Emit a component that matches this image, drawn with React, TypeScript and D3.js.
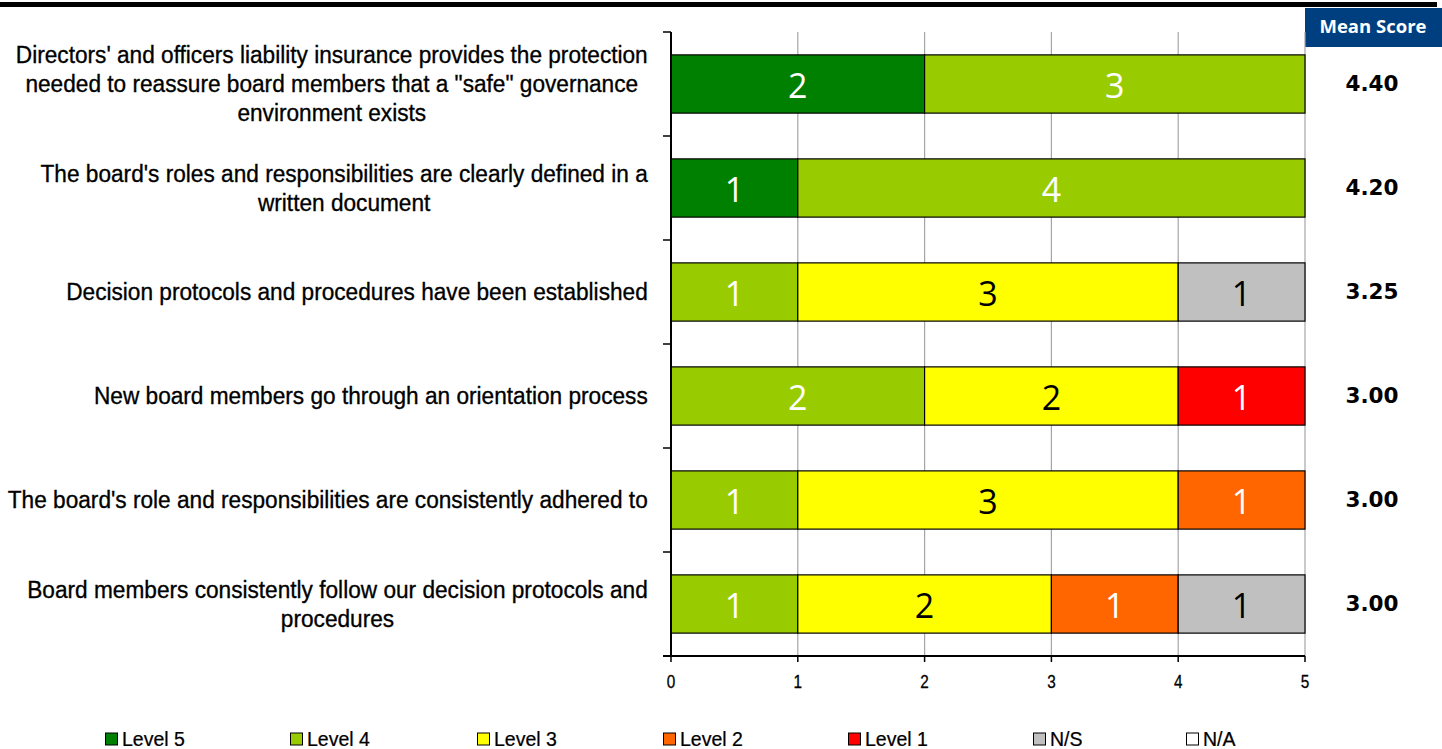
import React, { useEffect, useMemo } from "react";
import * as d3 from "d3";

// Survey statements (top to bottom) and their wrapped lines
const statements: string[][] = [
  [
    "Directors' and officers liability insurance provides the protection",
    'needed to reassure board members that a "safe" governance',
    "environment exists",
  ],
  ["The board's roles and responsibilities are clearly defined in a", "written document"],
  ["Decision protocols and procedures have been established"],
  ["New board members go through an orientation process"],
  ["The board's role and responsibilities are consistently adhered to"],
  ["Board members consistently follow our decision protocols and", "procedures"],
];

// Response levels, in stacking order
const levels = ["Level 5", "Level 4", "Level 3", "Level 2", "Level 1", "N/S", "N/A"];
const levelColors = ["#008000", "#99cc00", "#ffff00", "#ff6600", "#ff0000", "#c0c0c0", "#ffffff"];
const levelTextColors = ["#ffffff", "#ffffff", "#000000", "#ffffff", "#ffffff", "#000000", "#000000"];

// Response counts per statement, one value per level
const level5 = [2, 1, 0, 0, 0, 0];
const level4 = [3, 4, 1, 2, 1, 1];
const level3 = [0, 0, 3, 2, 3, 2];
const level2 = [0, 0, 0, 0, 1, 1];
const level1 = [0, 0, 0, 1, 0, 0];
const levelNS = [0, 0, 1, 0, 0, 1];
const levelNA = [0, 0, 0, 0, 0, 0];

const meanScores = ["4.40", "4.20", "3.25", "3.00", "3.00", "3.00"];
const xTicks = [0, 1, 2, 3, 4, 5];

const W = 1442;
const H = 749;
const SANS = '"Liberation Sans", Arial, sans-serif';

// horizontal squeeze that turns Liberation Sans into a narrow face
const LABEL_SQUEEZE = 0.925;
const LEGEND_SQUEEZE = 0.93;
const TICK_SQUEEZE = 0.85;

export default function App() {
  useEffect(() => {
    document.body.style.margin = "0";
  }, []);

  const counts = [level5, level4, level3, level2, level1, levelNS, levelNA];

  const x = d3.scaleLinear().domain([0, 5]).range([671, 1305]);
  const y = d3
    .scaleBand<number>()
    .domain(d3.range(statements.length))
    .range([32, 656])
    .paddingInner(0.44)
    .paddingOuter(0.22);
  const step = y.step();

  const rows = statements.map((_, i) => {
    const rec: Record<string, number> = {};
    levels.forEach((lv, j) => (rec[lv] = counts[j][i]));
    return rec;
  });
  const series = d3.stack<Record<string, number>>().keys(levels)(rows);

  const labelSize = 24.5;
  const widths = useMemo(() => {
    const c = document.createElement("canvas").getContext("2d")!;
    c.font = `${labelSize}px ${SANS}`;
    return statements.map((lines) => lines.map((l) => c.measureText(l).width * LABEL_SQUEEZE));
  }, []);

  const labelRight = 648;
  const lineH = 29;
  const legendX = [105, 290, 477, 663, 848, 1033, 1186];

  return (
    <svg
      width={W}
      height={H}
      viewBox={`0 0 ${W} ${H}`}
      style={{ display: "block", position: "absolute", left: 0, top: 0, background: "#fff" }}
    >
      {/* top rule */}
      <rect x={0} y={2} width={1437} height={5} fill="#000" />

      {/* mean score header */}
      <rect x={1305} y={8} width={137} height={39} fill="#003f7f" />
      <text
        x={1373}
        y={33}
        textAnchor="middle"
        fill="#fff"
        fontFamily='"Open Sans", sans-serif'
        fontWeight={700}
        fontSize={18.5}
      >
        Mean Score
      </text>

      {/* vertical gridlines */}
      {xTicks.slice(1).map((t) => (
        <line key={t} x1={x(t)} x2={x(t)} y1={32} y2={656} stroke="#a6a6a6" strokeWidth={1.2} />
      ))}

      {/* stacked bars */}
      {series.map((s, j) =>
        s.map((d, i) => {
          const v = d[1] - d[0];
          if (!v) return null;
          const x0 = x(d[0]);
          const x1 = x(d[1]);
          const yy = y(i)!;
          return (
            <g key={`${j}-${i}`}>
              <rect
                x={x0}
                y={yy}
                width={x1 - x0}
                height={y.bandwidth()}
                fill={levelColors[j]}
                stroke="#000"
                strokeWidth={1.2}
              />
              <text
                x={(x0 + x1) / 2}
                y={yy + y.bandwidth() / 2 + 14}
                textAnchor="middle"
                fill={levelTextColors[j]}
                fontFamily='"Open Sans", sans-serif'
                fontSize={34}
              >
                {v}
              </text>
            </g>
          );
        })
      )}

      {/* y axis */}
      <line x1={671} x2={671} y1={32} y2={656} stroke="#000" strokeWidth={2} />
      {d3.range(statements.length + 1).map((k) => (
        <line key={k} x1={663} x2={671} y1={32 + k * step} y2={32 + k * step} stroke="#000" strokeWidth={1.5} />
      ))}

      {/* x axis */}
      <line x1={663} x2={1305} y1={656} y2={656} stroke="#000" strokeWidth={2} />
      {xTicks.map((t) => (
        <g key={t}>
          <line x1={x(t)} x2={x(t)} y1={656} y2={662} stroke="#000" strokeWidth={1.5} />
          <text
            transform={`translate(${x(t)},688) scale(${TICK_SQUEEZE},1)`}
            textAnchor="middle"
            fontFamily={SANS}
            fontSize={18}
            fill="#000"
            stroke="#000"
            strokeWidth={0.3}
          >
            {t}
          </text>
        </g>
      ))}

      {/* statement labels */}
      {statements.map((lines, i) => {
        const maxW = Math.max(...widths[i]);
        const cx = labelRight - maxW / 2;
        const cy = y(i)! + y.bandwidth() / 2;
        const top = cy - ((lines.length - 1) * lineH) / 2;
        return (
          <g key={i} transform={`translate(${cx},0) scale(${LABEL_SQUEEZE},1)`}>
            <text
              textAnchor="middle"
              fontFamily={SANS}
              fontSize={labelSize}
              fill="#000"
              stroke="#000"
              strokeWidth={0.35}
            >
              {lines.map((l, k) => (
                <tspan key={k} x={0} y={top + k * lineH + 8.5}>
                  {l}
                </tspan>
              ))}
            </text>
          </g>
        );
      })}

      {/* mean scores */}
      {meanScores.map((m, i) => (
        <text
          key={i}
          x={1372}
          y={y(i)! + y.bandwidth() / 2 + 6.5}
          textAnchor="middle"
          fontFamily='"DejaVu Sans", sans-serif'
          fontWeight={700}
          fontSize={21.5}
          fill="#000"
        >
          {m}
        </text>
      ))}

      {/* legend */}
      {levels.map((lv, j) => (
        <g key={lv} transform={`translate(${legendX[j]},0)`}>
          <rect x={0.5} y={733} width={12} height={12} fill={levelColors[j]} stroke="#000" strokeWidth={1} />
          <text
            transform={`translate(17,746) scale(${LEGEND_SQUEEZE},1)`}
            fontFamily={SANS}
            fontSize={21}
            fill="#000"
            stroke="#000"
            strokeWidth={0.25}
          >
            {lv}
          </text>
        </g>
      ))}
    </svg>
  );
}
